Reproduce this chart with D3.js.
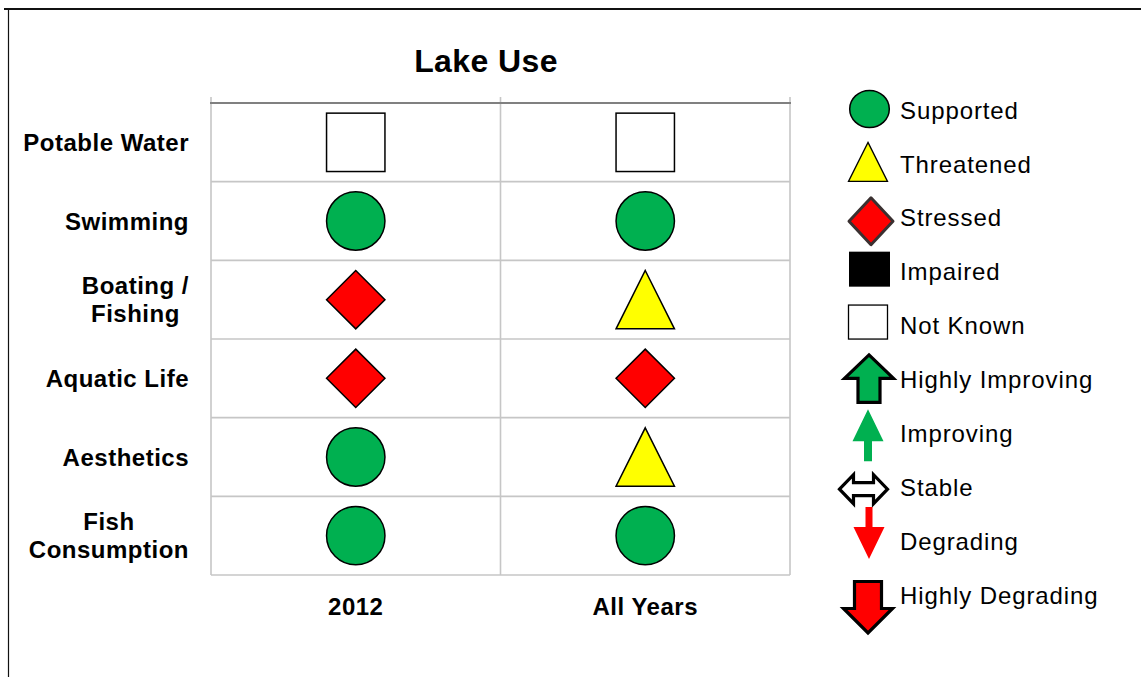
<!DOCTYPE html>
<html>
<head>
<meta charset="utf-8">
<script src="https://cdn.jsdelivr.net/npm/d3@7"></script>
<style>
  html, body { margin: 0; padding: 0; background: #fff; }
  svg { display: block; }
  text { font-family: "Liberation Sans", Arial, sans-serif; }
</style>
</head>
<body>
<svg id="chart" width="1141" height="677"></svg>
<script>
// ---------- data ----------
const title = "Lake Use";
const categories = ["Potable Water", "Swimming", "Boating / Fishing", "Aquatic Life", "Aesthetics", "Fish Consumption"];
const categoryLines = [["Potable Water"], ["Swimming"], ["Boating /", "Fishing"], ["Aquatic Life"], ["Aesthetics"], ["Fish", "Consumption"]];
const periods = ["2012", "All Years"];
const status2012 = ["Not Known", "Supported", "Stressed", "Stressed", "Supported", "Supported"];
const statusAllYears = ["Not Known", "Supported", "Threatened", "Stressed", "Threatened", "Supported"];
const legendLabels = ["Supported", "Threatened", "Stressed", "Impaired", "Not Known",
                      "Highly Improving", "Improving", "Stable", "Degrading", "Highly Degrading"];

// ---------- styles ----------
const GREEN = "#00B050", YELLOW = "#FFFF00", RED = "#FF0000";

const svg = d3.select("#chart");

// frame
svg.append("line").attr("x1", 4).attr("x2", 1141).attr("y1", 9).attr("y2", 9)
  .attr("stroke", "#111").attr("stroke-width", 2);
svg.append("line").attr("x1", 8.5).attr("x2", 8.5).attr("y1", 9).attr("y2", 677)
  .attr("stroke", "#111").attr("stroke-width", 1.2);

// title
svg.append("text").attr("x", 486).attr("y", 60).attr("dy", "0.36em")
  .attr("text-anchor", "middle").attr("font-weight", "bold").attr("font-size", 32)
  .attr("letter-spacing", 0.4).attr("fill", "#000").text(title);

// scales
const y = d3.scaleBand().domain(categories).range([103, 575]).padding(0);
const x = d3.scaleBand().domain(periods).range([211, 790]).padding(0);

// grid
const grid = svg.append("g");
const vx = [211, 790].concat(periods.slice(1).map(p => x(p)));
grid.selectAll("line.v").data(vx).join("line")
  .attr("x1", d => d).attr("x2", d => d).attr("y1", 97).attr("y2", 575)
  .attr("stroke", "#c6c6c6").attr("stroke-width", 1.6);
grid.selectAll("line.h").data(categories.slice(1).map(c => y(c)).concat([575])).join("line")
  .attr("x1", 211).attr("x2", 790).attr("y1", d => d).attr("y2", d => d)
  .attr("stroke", "#c6c6c6").attr("stroke-width", 1.6);
grid.append("line").attr("x1", 210).attr("x2", 791).attr("y1", 103).attr("y2", 103)
  .attr("stroke", "#808080").attr("stroke-width", 2);

// category labels (block right-aligned, lines centred)
const labG = svg.append("g");
categories.forEach((c, i) => {
  const lines = categoryLines[i];
  const g = labG.append("g");
  const cy = y(c) + y.bandwidth() / 2;
  const lh = 28;
  const ts = lines.map((l, j) => g.append("text")
    .attr("y", cy + (j - (lines.length - 1) / 2) * lh).attr("dy", "0.36em")
    .attr("text-anchor", "middle").attr("font-weight", "bold").attr("font-size", 24)
    .attr("letter-spacing", 0.5).attr("fill", "#000").text(l));
  const w = d3.max(ts, t => t.node().getComputedTextLength());
  ts.forEach(t => t.attr("x", 189 - w / 2));
});

// period labels
svg.selectAll("text.period").data(periods).join("text")
  .attr("x", d => x(d) + x.bandwidth() / 2).attr("y", 606).attr("dy", "0.36em")
  .attr("text-anchor", "middle").attr("font-weight", "bold").attr("font-size", 24)
  .attr("letter-spacing", 0.5).attr("fill", "#000").text(d => d);

// symbol drawing
function drawStatus(g, status, cx, cy, s) {
  if (status === "Supported") {
    g.append("circle").attr("cx", cx).attr("cy", cy).attr("r", s)
      .attr("fill", GREEN).attr("stroke", "#000").attr("stroke-width", 1.5);
  } else if (status === "Threatened") {
    g.append("path").attr("d", d3.line()([[cx, cy - s], [cx + s, cy + s], [cx - s, cy + s]]) + "Z")
      .attr("fill", YELLOW).attr("stroke", "#000").attr("stroke-width", 1.5).attr("stroke-linejoin", "miter");
  } else if (status === "Stressed") {
    g.append("path").attr("d", d3.line()([[cx, cy - s], [cx + s, cy], [cx, cy + s], [cx - s, cy]]) + "Z")
      .attr("fill", RED).attr("stroke", "#000").attr("stroke-width", 1.5);
  } else if (status === "Not Known") {
    g.append("rect").attr("x", cx - s).attr("y", cy - s).attr("width", 2 * s).attr("height", 2 * s)
      .attr("fill", "#fff").attr("stroke", "#000").attr("stroke-width", 1.5);
  } else if (status === "Impaired") {
    g.append("rect").attr("x", cx - s).attr("y", cy - s).attr("width", 2 * s).attr("height", 2 * s)
      .attr("fill", "#000");
  }
}

const cells = [];
categories.forEach((c, i) => {
  cells.push({ cat: c, period: periods[0], status: status2012[i] });
  cells.push({ cat: c, period: periods[1], status: statusAllYears[i] });
});
const cellG = svg.append("g");
cells.forEach(d => {
  const cx = x(d.period) + x.bandwidth() / 2;
  const cy = y(d.cat) + y.bandwidth() / 2;
  drawStatus(cellG, d.status, cx, cy, 29.2);
});

// legend
const ly = d3.scalePoint().domain(legendLabels).range([110, 595]);
const legG = svg.append("g");
legG.selectAll("text").data(legendLabels).join("text")
  .attr("x", 900).attr("y", d => ly(d)).attr("dy", "0.36em")
  .attr("font-size", 24).attr("letter-spacing", 0.9).attr("fill", "#000").text(d => d);

const LX = 869;
function poly(pts, dx, dy) { return d3.line()(pts.map(p => [p[0] + dx, p[1] + dy])) + "Z"; }
legendLabels.forEach(lbl => {
  const cy = ly(lbl);
  if (lbl === "Supported") {
    legG.append("ellipse").attr("cx", LX + 0.5).attr("cy", cy - 1).attr("rx", 19.8).attr("ry", 18.5)
      .attr("fill", GREEN).attr("stroke", "#000").attr("stroke-width", 1.5);
  } else if (lbl === "Threatened") {
    legG.append("path").attr("d", poly([[0, -19.5], [19.5, 19.5], [-19.5, 19.5]], 868, cy - 2))
      .attr("fill", YELLOW).attr("stroke", "#000").attr("stroke-width", 1.3);
  } else if (lbl === "Stressed") {
    legG.append("path").attr("d", poly([[0, -23.5], [22, 0], [0, 23.5], [-22, 0]], 871, cy + 3.5))
      .attr("fill", RED).attr("stroke", "#3a3030").attr("stroke-width", 3).attr("stroke-linejoin", "round");
  } else if (lbl === "Impaired") {
    legG.append("rect").attr("x", 849).attr("y", cy - 20).attr("width", 41).attr("height", 35).attr("fill", "#000");
  } else if (lbl === "Not Known") {
    legG.append("rect").attr("x", 848.5).attr("y", cy - 20.5).attr("width", 39).attr("height", 34)
      .attr("fill", "#fff").attr("stroke", "#000").attr("stroke-width", 1.3);
  } else if (lbl === "Highly Improving") {
    legG.append("path").attr("d", poly([[0, -24], [24.5, -0.5], [11, -0.5], [11, 23.5], [-11, 23.5], [-11, -0.5], [-24.5, -0.5]], 869, cy - 0.5))
      .attr("fill", GREEN).attr("stroke", "#000").attr("stroke-width", 3.2).attr("stroke-linejoin", "miter");
  } else if (lbl === "Improving") {
    legG.append("path").attr("d", poly([[0, -24], [15.5, 8], [4, 8], [4, 28], [-4, 28], [-4, 8], [-15.5, 8]], 868, cy))
      .attr("fill", GREEN);
  } else if (lbl === "Stable") {
    legG.append("path").attr("d", poly([[-24, 0], [-10, -14.5], [-10, -6.5], [10, -6.5], [10, -14.5], [24, 0], [10, 14.5], [10, 6.5], [-10, 6.5], [-10, 14.5]], 863.5, cy + 2))
      .attr("fill", "#fff").attr("stroke", "#000").attr("stroke-width", 3.2).attr("stroke-linejoin", "miter");
  } else if (lbl === "Degrading") {
    legG.append("path").attr("d", poly([[-3.5, -34], [3.5, -34], [3.5, -14], [15.5, -14], [0, 18], [-15.5, -14], [-3.5, -14]], 869, cy))
      .attr("fill", RED);
  } else if (lbl === "Highly Degrading") {
    legG.append("path").attr("d", poly([[-13.5, -13.5], [13.5, -13.5], [13.5, 13.5], [24.5, 13.5], [0, 38], [-24.5, 13.5], [-13.5, 13.5]], 868, cy))
      .attr("fill", RED).attr("stroke", "#000").attr("stroke-width", 3.2).attr("stroke-linejoin", "miter");
  }
});
</script>
</body>
</html>
